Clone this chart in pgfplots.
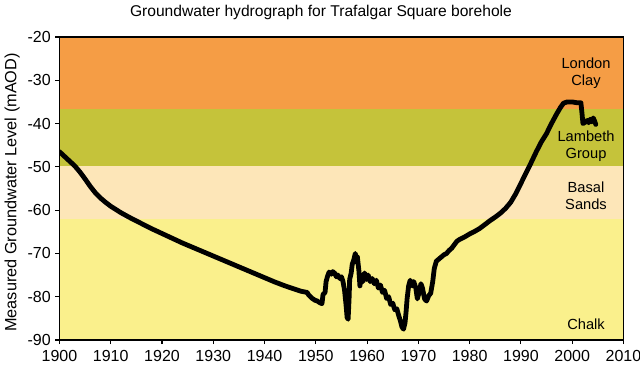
\documentclass[border=0pt]{standalone}
\usepackage{pgfplots}
\pgfplotsset{compat=1.18}
\usepackage{fontspec}
\setmainfont{Liberation Sans}
\definecolor{clay}{RGB}{245,157,69}
\definecolor{lambeth}{RGB}{197,195,58}
\definecolor{basal}{RGB}{253,230,184}
\definecolor{chalk}{RGB}{250,240,140}
\begin{document}
\begin{tikzpicture}
\path[use as bounding box] (-44.6pt,-24pt) rectangle (435.4pt,255pt);
\begin{axis}[
  scale only axis,
  width=423pt, height=227.25pt,
  at={(0pt,0pt)}, anchor=south west,
  xmin=1900, xmax=2010, ymin=-90, ymax=-20,
  xtick={1900,1910,...,2010}, ytick={-90,-80,...,-20},
  xtick pos=left, ytick pos=left,
  tick align=outside, major tick length=3pt,
  tick style={black, line width=0.8pt},
  axis line style={black, line width=0.8pt},
  axis on top,
  /pgf/number format/assume math mode=true,
  /pgf/number format/1000 sep={},
  ticklabel style={font=\fontsize{12}{14}\selectfont},
  xticklabel style={yshift=-1pt},
  title={Groundwater hydrograph for Trafalgar Square borehole},
  title style={font=\fontsize{11.7}{14}\selectfont, at={(0.4637,1)}, anchor=south, yshift=3.5pt},
  ylabel={Measured Groundwater Level (mAOD)},
  ylabel style={font=\fontsize{12.2}{14}\selectfont, yshift=-1pt, xshift=-3pt},
  clip=true,
]
\addplot[fill=clay, draw=none] coordinates {(1900,-20) (2010,-20) (2010,-36.7) (1900,-36.7)} -- cycle;
\addplot[fill=lambeth, draw=none] coordinates {(1900,-36.7) (2010,-36.7) (2010,-49.7) (1900,-49.7)} -- cycle;
\addplot[fill=basal, draw=none] coordinates {(1900,-49.7) (2010,-49.7) (2010,-62) (1900,-62)} -- cycle;
\addplot[fill=chalk, draw=none] coordinates {(1900,-62) (2010,-62) (2010,-90) (1900,-90)} -- cycle;
\addplot[black, line width=3.6pt, line join=round, line cap=round] coordinates {
(1900,-46.5) (1901,-47.6) (1902,-48.7) (1903,-49.8) (1904,-51.2) (1905,-52.8)
(1906,-54.5) (1907,-56.0) (1908,-57.2) (1909,-58.2) (1910,-59.1) (1912,-60.6)
(1914,-61.9) (1916,-63.1) (1918,-64.3) (1920,-65.4) (1922,-66.5) (1924,-67.6)
(1926,-68.6) (1928,-69.6) (1930,-70.6) (1932,-71.6) (1934,-72.6) (1936,-73.6)
(1938,-74.6) (1940,-75.6) (1942,-76.6) (1944,-77.5) (1946,-78.3) (1947,-78.7)
(1947.8,-78.9) (1948.3,-79.0) (1948.6,-79.6) (1949.2,-80.3) (1949.8,-80.8)
(1950.3,-81.0) (1950.8,-81.4) (1951.2,-81.6) (1951.4,-79.5) (1951.8,-79.0)
(1952.0,-76.5) (1952.3,-75.2) (1952.6,-74.3) (1953.0,-74.8) (1953.3,-74.2)
(1953.7,-74.6) (1954.0,-75.4) (1954.3,-75.0) (1954.7,-75.8) (1955.0,-75.4)
(1955.3,-76.5) (1955.6,-78.5) (1955.9,-82.0) (1956.1,-84.8) (1956.3,-85.2)
(1956.5,-80) (1956.6,-76) (1956.9,-74.5) (1957.1,-72.5) (1957.4,-71.5)
(1957.7,-70.0) (1957.9,-72) (1958.1,-70.8) (1958.4,-74) (1958.6,-77.5)
(1958.9,-75) (1959.2,-76.5) (1959.5,-74.5) (1959.9,-76) (1960.2,-75.0)
(1960.6,-76.5) (1961,-75.8) (1961.4,-77) (1961.8,-76.2) (1962.2,-78)
(1962.6,-77.3) (1963,-79) (1963.4,-78.5) (1963.8,-80.4) (1964.2,-80)
(1964.6,-81.8) (1965,-81.5) (1965.4,-83) (1965.8,-82.8) (1966.2,-84.5)
(1966.5,-85.6) (1966.8,-87.0) (1967.1,-87.5) (1967.4,-86) (1967.6,-83.5)
(1967.8,-80.5) (1968.1,-77.5) (1968.4,-76.2) (1968.8,-77.5) (1969.1,-76.5)
(1969.5,-78) (1969.8,-80.5) (1970.1,-79.2) (1970.5,-77) (1970.8,-78)
(1971.2,-80.5) (1971.6,-81) (1972,-79.8) (1972.4,-79.2) (1972.8,-76.5)
(1973.1,-73.5) (1973.5,-71.8) (1974,-71.3) (1974.5,-70.8) (1975,-70.3)
(1975.5,-70.0) (1976,-69.3) (1976.5,-68.8) (1977,-68) (1977.5,-67.2)
(1978,-66.8) (1979,-66.2) (1980,-65.5) (1981,-64.9) (1982,-64.2) (1983,-63.3)
(1984,-62.4) (1985,-61.6) (1986,-60.7) (1987,-59.6) (1988,-58.2) (1989,-56.2)
(1990,-53.8) (1991,-51.4) (1992,-49.0) (1993,-46.5) (1994,-44.2) (1995,-42.3)
(1996,-39.9) (1997,-37.7) (1997.7,-36.3) (1998.3,-35.3) (1999,-35.0)
(2000,-35.0) (2001,-35.2) (2001.7,-35.2) (2001.9,-37.5) (2002.1,-40.0)
(2002.5,-39.7) (2002.9,-39.3) (2003.2,-39.8) (2003.5,-39.0) (2003.8,-39.6)
(2004.1,-38.7) (2004.4,-39.5) (2004.6,-40.2)
};
\node[font=\fontsize{11}{13}\selectfont, align=center] at (axis cs:2002.7,-28.3) {London\\Clay};
\node[font=\fontsize{11}{13}\selectfont, align=center] at (axis cs:2002.7,-45.2) {Lambeth\\Group};
\node[font=\fontsize{11}{13}\selectfont, align=center] at (axis cs:2002.7,-56.7) {Basal\\Sands};
\node[font=\fontsize{11}{13}\selectfont] at (axis cs:2002.7,-86.3) {Chalk};
\end{axis}
\end{tikzpicture}
\end{document}
